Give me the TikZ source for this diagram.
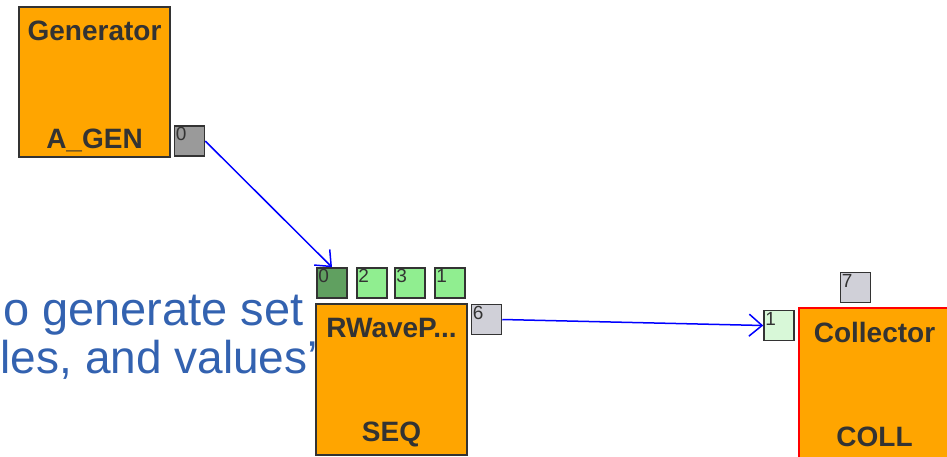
\documentclass[tikz,border=0pt]{standalone}
\usepackage{fontspec}
\setmainfont{Liberation Sans}
\usepackage{xcolor}
\usetikzlibrary{arrows.meta}

\definecolor{blockorange}{HTML}{FFA500}
\definecolor{blockline}{HTML}{333333}
\definecolor{portgray}{HTML}{9A9A9A}
\definecolor{portlight}{HTML}{D0D0D8}
\definecolor{portdark}{HTML}{60A060}
\definecolor{portgreen}{HTML}{90EE90}
\definecolor{portpale}{HTML}{D8F8D8}
\definecolor{slideblue}{HTML}{3362B0}
\definecolor{wireblue}{HTML}{0000FF}

\begin{document}
\begin{tikzpicture}[x=1pt,y=-1pt,
  block/.style={rectangle,draw=blockline,line width=2pt,fill=blockorange,minimum width=151pt,minimum height=150pt,inner sep=0pt},
  port/.style={rectangle,draw=blockline,line width=1.5pt,minimum width=30pt,minimum height=30pt,inner sep=0pt},
  title/.style={font=\fontsize{28}{28}\selectfont\bfseries,text=blockline,inner sep=0pt},
  digit/.style={font=\fontsize{19}{19}\selectfont,text=blockline,inner sep=2pt,anchor=north west},
  wire/.style={draw=wireblue,line width=1.5pt,-{Straight Barb[length=13pt,width=22pt,line width=1.5pt]}}]
\useasboundingbox (0,0) rectangle (947,456);
% slide text behind the model
\node (line1) at (3,325) [anchor=base west,inner sep=0pt,text=slideblue,font=\fontsize{47}{47}\selectfont] {o generate set};
\node (line2) at (0.5,373) [anchor=base west,inner sep=0pt,text=slideblue,font=\fontsize{46}{46}\selectfont] {les, and values’};
% generator
\node (gen) at (94.5,82) [block] {};
\node (gentop) at (94.5,31) [title] {Generator};
\node (genbot) at (94.5,140) [title] {A\_GEN};
\node (g0) at (189.5,141) [port,fill=portgray] {};
\node at (g0.north west) [digit] {0};
% sequencer
\node (seq) at (391.5,379.5) [block,minimum height=151pt] {};
\node (seqtop) at (391.5,328) [title] {RWaveP...};
\node (seqbot) at (391.5,434) [title] {SEQ};
\node (s0) at (332,283) [port,fill=portdark] {};
\node (s2) at (372,283) [port,fill=portgreen] {};
\node (s3) at (410,283) [port,fill=portgreen] {};
\node (s1) at (450,283) [port,fill=portgreen] {};
\node (s6) at (486.5,319.5) [port,fill=portlight] {};
\node at (s0.north west) [digit] {0};
\node at (s2.north west) [digit] {2};
\node at (s3.north west) [digit] {3};
\node at (s1.north west) [digit] {1};
\node at (s6.north west) [digit] {6};
% collector
\node (coll) at (874.5,383.5) [block,draw=red,line width=1.5pt,minimum height=151pt] {};
\node (colltop) at (874.5,332) [title] {Collector};
\node (collbot) at (874.5,437) [title] {COLL};
\node (c7) at (855.5,287.5) [port,fill=portlight] {};
\node (c1) at (779,325.5) [port,fill=portpale] {};
\node at (c7.north west) [digit] {7};
\node at (c1.north west) [digit] {1};
% links
\draw[wire] (g0.east) -- (s0.north);
\draw[wire] (s6.east) -- (c1.west);
\end{tikzpicture}
\end{document}
